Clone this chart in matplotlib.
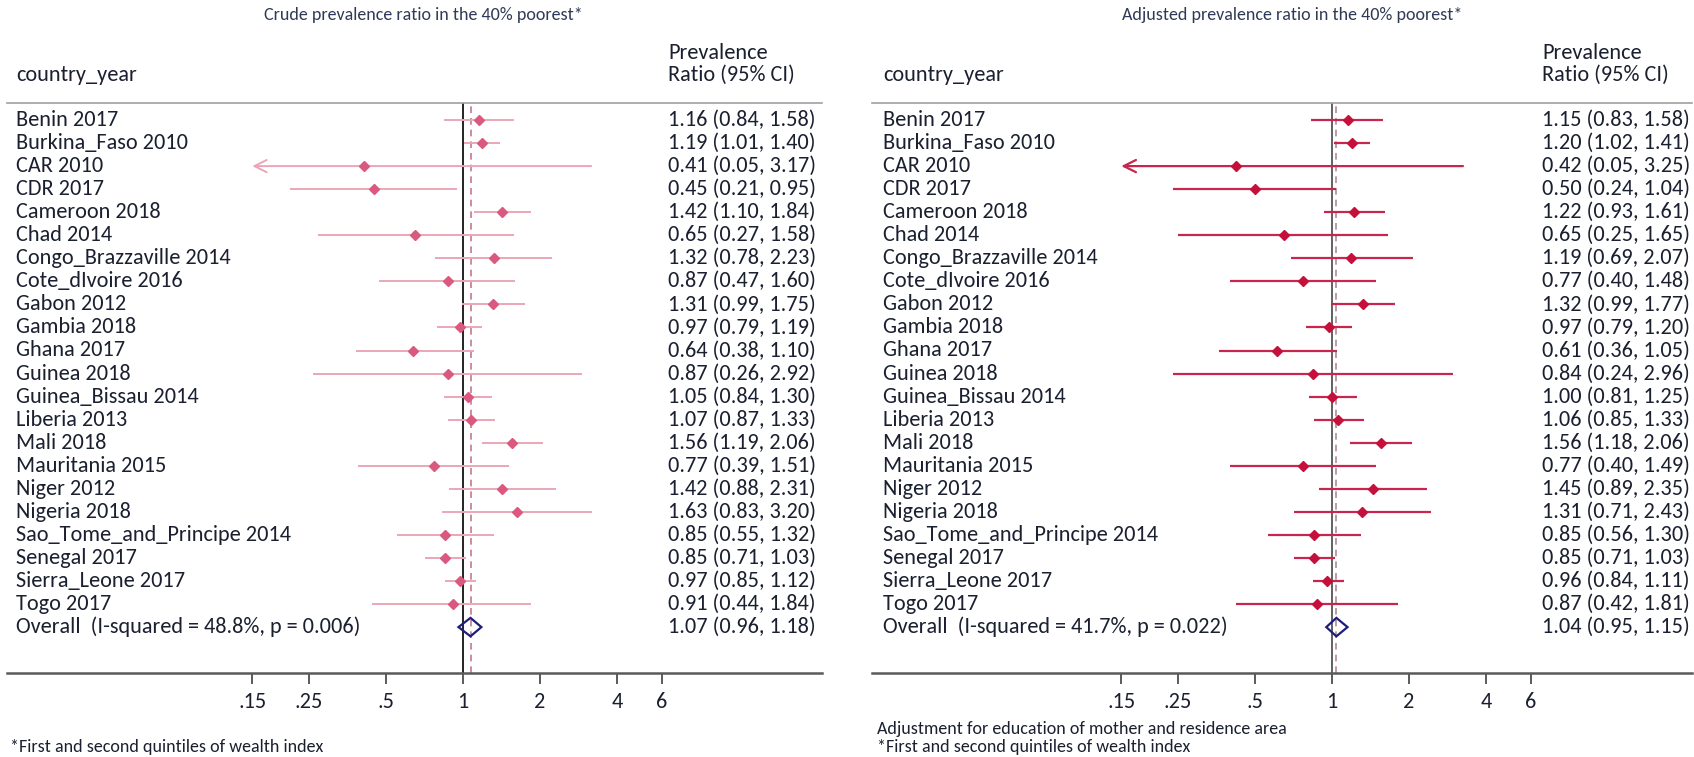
import matplotlib
matplotlib.use("Agg")
import matplotlib.pyplot as plt
from matplotlib import font_manager
from matplotlib.patches import Polygon
from matplotlib.transforms import blended_transform_factory

# ---------------- data ----------------
countries = ["Benin 2017", "Burkina_Faso 2010", "CAR 2010", "CDR 2017", "Cameroon 2018",
             "Chad 2014", "Congo_Brazzaville 2014", "Cote_dIvoire 2016", "Gabon 2012",
             "Gambia 2018", "Ghana 2017", "Guinea 2018", "Guinea_Bissau 2014", "Liberia 2013",
             "Mali 2018", "Mauritania 2015", "Niger 2012", "Nigeria 2018",
             "Sao_Tome_and_Principe 2014", "Senegal 2017", "Sierra_Leone 2017", "Togo 2017"]

crude_est = [1.16, 1.19, 0.41, 0.45, 1.42, 0.65, 1.32, 0.87, 1.31, 0.97, 0.64, 0.87,
             1.05, 1.07, 1.56, 0.77, 1.42, 1.63, 0.85, 0.85, 0.97, 0.91]
crude_lo = [0.84, 1.01, 0.05, 0.21, 1.10, 0.27, 0.78, 0.47, 0.99, 0.79, 0.38, 0.26,
            0.84, 0.87, 1.19, 0.39, 0.88, 0.83, 0.55, 0.71, 0.85, 0.44]
crude_hi = [1.58, 1.40, 3.17, 0.95, 1.84, 1.58, 2.23, 1.60, 1.75, 1.19, 1.10, 2.92,
            1.30, 1.33, 2.06, 1.51, 2.31, 3.20, 1.32, 1.03, 1.12, 1.84]
crude_overall = [1.07, 0.96, 1.18]
crude_het = "Overall  (I-squared = 48.8%, p = 0.006)"

adj_est = [1.15, 1.20, 0.42, 0.50, 1.22, 0.65, 1.19, 0.77, 1.32, 0.97, 0.61, 0.84,
           1.00, 1.06, 1.56, 0.77, 1.45, 1.31, 0.85, 0.85, 0.96, 0.87]
adj_lo = [0.83, 1.02, 0.05, 0.24, 0.93, 0.25, 0.69, 0.40, 0.99, 0.79, 0.36, 0.24,
          0.81, 0.85, 1.18, 0.40, 0.89, 0.71, 0.56, 0.71, 0.84, 0.42]
adj_hi = [1.58, 1.41, 3.25, 1.04, 1.61, 1.65, 2.07, 1.48, 1.77, 1.20, 1.05, 2.96,
          1.25, 1.33, 2.06, 1.49, 2.35, 2.43, 1.30, 1.03, 1.11, 1.81]
adj_overall = [1.04, 0.95, 1.15]
adj_het = "Overall  (I-squared = 41.7%, p = 0.022)"

tick_values = [0.15, 0.25, 0.5, 1, 2, 4, 6]
tick_labels = [".15", ".25", ".5", "1", "2", "4", "6"]

titles = ["Crude prevalence ratio in the 40% poorest*",
          "Adjusted prevalence ratio in the 40% poorest*"]
footnotes = [["*First and second quintiles of wealth index"],
             ["Adjustment for education of mother and residence area",
              "*First and second quintiles of wealth index"]]

# ---------------- fonts ----------------
def pick_font(cands):
    for c in cands:
        try:
            font_manager.findfont(c, fallback_to_default=False)
            return c
        except Exception:
            pass
    return "DejaVu Sans"

FONT = pick_font(["Carlito", "Liberation Sans Narrow", "Lato", "Open Sans"])
plt.rcParams["font.family"] = [FONT, "DejaVu Sans"]

W, H = 1694, 757
fig = plt.figure(figsize=(W / 100, H / 100), dpi=100)
fig.patch.set_facecolor("white")

TXT = "#1b2030"
TITLE_C = "#2f3b55"

panels = [
    dict(x0=7, x1=822, one=463, est=crude_est, lo=crude_lo, hi=crude_hi, ov=crude_overall,
         het=crude_het, lab_x=16, ci_x=668, title_x=423,
         line_c="#eaa6b8", mark_c="#d95a7e", dash_c="#c47990", null_c="#111111",
         title=titles[0], notes=footnotes[0], note_x=10, lw=1.4),
    dict(x0=872, x1=1692, one=1332, est=adj_est, lo=adj_lo, hi=adj_hi, ov=adj_overall,
         het=adj_het, lab_x=883, ci_x=1542, title_x=1292,
         line_c="#c8254f", mark_c="#c4103a", dash_c="#b38a96", null_c="#555555",
         title=titles[1], notes=footnotes[1], note_x=877, lw=1.6),
]

DOUB = 77.0        # pixels per doubling
Y_TOP, Y_BOT = 103, 673
ROW0, ROWSTEP = 120, 23.05
n = len(countries)
FS = 16
FS_SMALL = 13

for p in panels:
    left = p["x0"] / W
    width = (p["x1"] - p["x0"]) / W
    bottom = 1 - Y_BOT / H
    height = (Y_BOT - Y_TOP) / H
    ax = fig.add_axes([left, bottom, width, height])
    ax.set_xscale("log")
    ax.set_xlim(2 ** ((p["x0"] - p["one"]) / DOUB), 2 ** ((p["x1"] - p["one"]) / DOUB))
    ax.set_ylim((Y_BOT - ROW0) / ROWSTEP, (Y_TOP - ROW0) / ROWSTEP)
    ax.set_facecolor("none")
    for s in ["left", "right"]:
        ax.spines[s].set_visible(False)
    ax.spines["top"].set_color("#a0a0a0")
    ax.spines["top"].set_linewidth(1.2)
    ax.spines["bottom"].set_color("#5a5a5a")
    ax.spines["bottom"].set_linewidth(1.8)
    ax.set_yticks([])
    ax.set_xticks(tick_values)
    ax.set_xticklabels(tick_labels)
    ax.xaxis.set_minor_locator(matplotlib.ticker.NullLocator())
    ax.tick_params(axis="x", direction="out", length=8, width=1.4, color="#5a5a5a",
                   labelsize=FS, labelcolor=TXT, pad=6)

    # null line and overall dashed line
    ax.axvline(1, color=p["null_c"], lw=1.3, zorder=2)
    ax.axvline(p["ov"][0], color=p["dash_c"], lw=1.2, ls=(0, (4, 3)), zorder=2)

    xmin_tick = tick_values[0]
    xmax_tick = tick_values[-1]
    for i in range(n):
        lo, hi, est = p["lo"][i], p["hi"][i], p["est"][i]
        if lo < xmin_tick:
            ax.annotate("", xy=(xmin_tick, i), xytext=(min(hi, xmax_tick), i),
                        arrowprops=dict(arrowstyle="->", color=p["line_c"], lw=p["lw"],
                                        mutation_scale=22, shrinkA=0, shrinkB=0),
                        zorder=3)
        else:
            ax.plot([lo, min(hi, xmax_tick)], [i, i], color=p["line_c"], lw=p["lw"],
                    solid_capstyle="butt", zorder=3)
        ax.plot([est], [i], marker="D", ms=5.5, color=p["mark_c"], mec=p["mark_c"],
                zorder=4)

    # overall diamond
    oe, olo, ohi = p["ov"]
    yi = n
    dia = Polygon([[olo, yi], [oe, yi - 0.40], [ohi, yi], [oe, yi + 0.40]], closed=True,
                  fill=False, edgecolor="#1d1d7a", lw=1.6, zorder=5)
    ax.add_patch(dia)

    # text columns
    tr = blended_transform_factory(fig.transFigure, ax.transData)
    for i, c in enumerate(countries):
        ax.text(p["lab_x"] / W, i, c, transform=tr, fontsize=FS, color=TXT,
                ha="left", va="center")
        ax.text(p["ci_x"] / W, i, f"{p['est'][i]:.2f} ({p['lo'][i]:.2f}, {p['hi'][i]:.2f})",
                transform=tr, fontsize=FS, color=TXT, ha="left", va="center")
    ax.text(p["lab_x"] / W, n, p["het"], transform=tr, fontsize=FS, color=TXT,
            ha="left", va="center")
    ax.text(p["ci_x"] / W, n, f"{oe:.2f} ({olo:.2f}, {ohi:.2f})", transform=tr,
            fontsize=FS, color=TXT, ha="left", va="center")

    # header
    fig.text(p["lab_x"] / W, 1 - 75 / H, "country_year", fontsize=FS, color=TXT,
             ha="left", va="center")
    fig.text(p["ci_x"] / W, 1 - 53 / H, "Prevalence", fontsize=FS, color=TXT,
             ha="left", va="center")
    fig.text(p["ci_x"] / W, 1 - 75 / H, "Ratio (95% CI)", fontsize=FS, color=TXT,
             ha="left", va="center")
    # title
    fig.text(p["title_x"] / W, 1 - 15 / H, p["title"], fontsize=FS_SMALL, color=TITLE_C,
             ha="center", va="center")
    # footnotes
    ys = [747] if len(p["notes"]) == 1 else [729, 747]
    for y, t in zip(ys, p["notes"]):
        fig.text(p["note_x"] / W, 1 - y / H, t, fontsize=FS_SMALL, color=TXT,
                 ha="left", va="center")

fig.savefig("out.png", dpi=100, facecolor="white")
